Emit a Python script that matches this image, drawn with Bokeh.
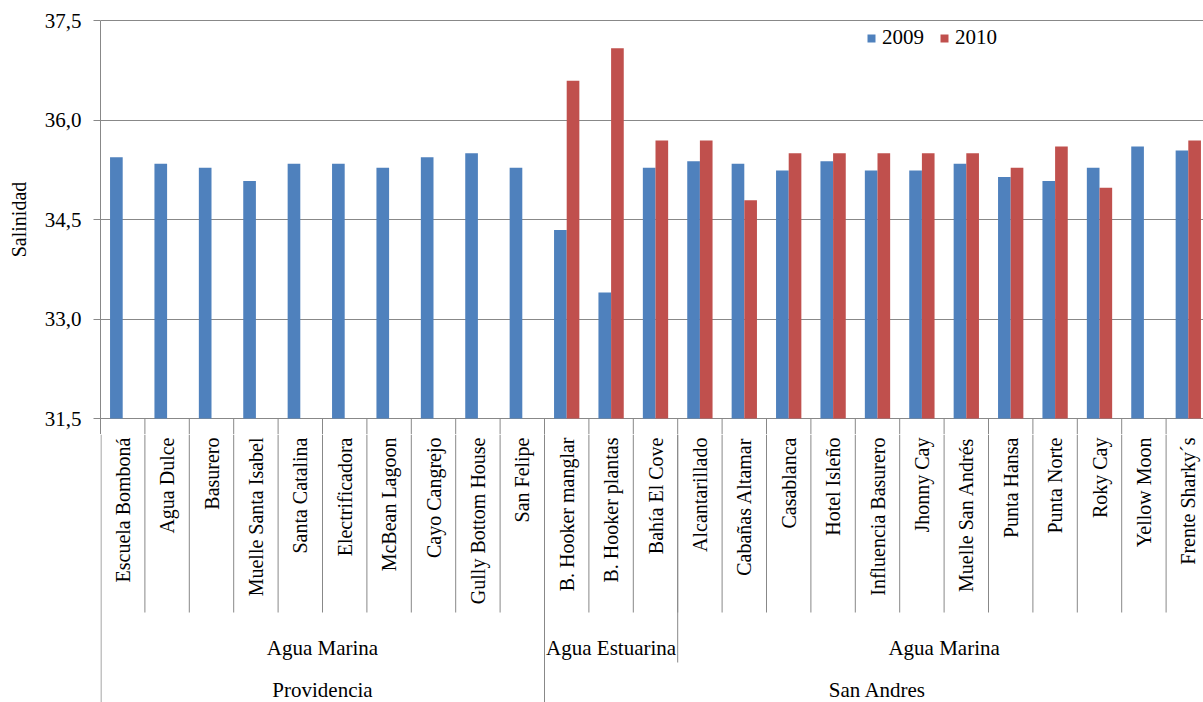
import math
import numpy as np
from bokeh.plotting import figure
from bokeh.layouts import column
from bokeh.models import (Range1d, FixedTicker, CustomJSTickFormatter, ColumnDataSource,
                          Legend, LegendItem)
from bokeh.core.properties import value
from bokeh.embed import file_html
from bokeh.resources import INLINE

# ---------------- data ----------------
sites = ["Escuela Bomboná", "Agua Dulce", "Basurero", "Muelle Santa Isabel",
         "Santa Catalina", "Electrificadora", "McBean Lagoon", "Cayo Cangrejo",
         "Gully Bottom House", "San Felipe", "B. Hooker manglar", "B. Hooker plantas",
         "Bahía El Cove", "Alcantarillado", "Cabañas Altamar", "Casablanca",
         "Hotel Isleño", "Influencia Basurero", "Jhonny Cay", "Muelle San Andrés",
         "Punta Hansa", "Punta Norte", "Roky Cay", "Yellow Moon", "Frente Sharky´s"]
water_type = (["Agua Marina"] * 10 + ["Agua Estuarina"] * 3 + ["Agua Marina"] * 12)
island = ["Providencia"] * 10 + ["San Andres"] * 15
sal_2009 = [35.44, 35.34, 35.28, 35.08, 35.34, 35.34, 35.28, 35.44, 35.50, 35.28,
            34.34, 33.40, 35.28, 35.38, 35.34, 35.24, 35.38, 35.24, 35.24, 35.34,
            35.14, 35.08, 35.28, 35.60, 35.54]
sal_2010 = [None] * 10 + [36.59, 37.08, 35.69, 35.69, 34.79, 35.50, 35.50, 35.50,
                          35.50, 35.50, 35.28, 35.60, 34.98, None, 35.69]
years = ["2009", "2010"]
y_ticks = [31.5, 33.0, 34.5, 36.0, 37.5]
y_label = "Salinidad"

# ---------------- layout constants ----------------
FONT = "Liberation Serif"
BLUE = "#4F81BD"
RED = "#C0504D"
GRID = "#888888"
W, H = 1203, 702
LEFT = 100
TOP_LINE = 20                # page row of the 37,5 gridline
PLOT_H = 398                 # 31,5 .. 37,5 in pixels
BASE_LINE = TOP_LINE + PLOT_H
PAD_T, PAD_B = 4, 16         # frame extends a little above / below the value range
TOP_H = BASE_LINE + PAD_B    # height of the upper figure
BOT_H = H - TOP_H            # height of the category-label band
FRAME_W = W - LEFT
CAT_PX = 44.4
X_END = FRAME_W / CAT_PX
BAR_W = 0.285
Y_MIN, Y_MAX = y_ticks[0], y_ticks[-1]
PX_PER_UNIT = PLOT_H / (Y_MAX - Y_MIN)
Y_LO = Y_MIN - PAD_B / PX_PER_UNIT
Y_HI = Y_MAX + (TOP_LINE - PAD_T) / PX_PER_UNIT

n = len(sites)
xc = np.arange(n) + 0.5
nanify = lambda a: np.array([np.nan if v is None else v for v in a], dtype=float)
src = ColumnDataSource(dict(
    x09=xc - BAR_W / 2, x10=xc + BAR_W / 2,
    s09=nanify(sal_2009), s10=nanify(sal_2010), site=sites, xc=xc))

x_range = Range1d(0, X_END)


def runs(keys):
    out, start = [], 0
    for i in range(1, len(keys) + 1):
        if i == len(keys) or keys[i] != keys[start]:
            out.append((keys[start], start, i))
            start = i
    return out


water_runs = runs(list(zip(island, water_type)))
island_runs = runs(island)
short_x = [i for i in range(1, n)]
w_x = [s for _, s, _ in water_runs if s > 0]
i_x = [s for _, s, _ in island_runs if s > 0]

# ---------------- upper figure: bars ----------------
p = figure(width=W, height=TOP_H, x_range=x_range, y_range=Range1d(Y_LO, Y_HI),
           output_backend="svg", toolbar_location=None, min_border_left=LEFT,
           min_border_top=PAD_T, min_border_right=0, min_border_bottom=0)
p.outline_line_color = None
p.background_fill_color = "white"
p.xaxis.visible = False
p.xgrid.visible = False

ticker = FixedTicker(ticks=y_ticks)
yax = p.yaxis[0]
yax.ticker = ticker
yax.bounds = (Y_LO, Y_MAX)
yax.formatter = CustomJSTickFormatter(code="return tick.toFixed(1).replace('.', ',');")
yax.axis_line_color = GRID
yax.major_tick_line_color = GRID
yax.major_tick_out = 7
yax.major_tick_in = 0
yax.minor_tick_line_color = None
yax.major_label_text_font = FONT
yax.major_label_text_font_size = "21px"
yax.major_label_text_color = "black"
yax.major_label_standoff = 12
yax.axis_label = y_label
yax.axis_label_text_font = FONT
yax.axis_label_text_font_size = "20px"
yax.axis_label_text_font_style = "normal"
yax.axis_label_text_color = "black"
yax.axis_label_standoff = 12

p.ygrid.ticker = ticker
p.ygrid.grid_line_color = GRID
p.ygrid.grid_line_width = 1

r09 = p.vbar(x="x09", top="s09", bottom=Y_MIN, width=BAR_W, source=src,
             fill_color=BLUE, line_color=None)
r10 = p.vbar(x="x10", top="s10", bottom=Y_MIN, width=BAR_W, source=src,
             fill_color=RED, line_color=None)

# start of the category separators (just below the 31,5 line)
p.segment(x0=short_x, x1=short_x, y0=Y_MIN, y1=Y_LO, line_color=GRID, line_width=1)

legend = Legend(items=[LegendItem(label=years[0], renderers=[r09]),
                       LegendItem(label=years[1], renderers=[r10])],
                location=(766, TOP_H - 50), orientation="horizontal",
                border_line_color=None, background_fill_alpha=0,
                glyph_width=10, glyph_height=10, label_standoff=6, spacing=15,
                padding=0, margin=0, label_text_font=FONT, label_text_font_size="21px",
                label_text_color="black")
p.add_layout(legend)

# ---------------- lower figure: multi-level category axis ----------------
q = figure(width=W, height=BOT_H, x_range=x_range, y_range=Range1d(BOT_H, 0),
           output_backend="svg", toolbar_location=None, min_border_left=LEFT,
           min_border_top=0, min_border_right=0, min_border_bottom=0)
q.outline_line_color = None
q.background_fill_color = "white"
q.xaxis.visible = False
q.yaxis.visible = False
q.grid.visible = False


def band_y(sy):
    """row inside the label band, from a page row"""
    return sy - TOP_H


q.text(x="xc", y=band_y(437), text="site", source=src, angle=math.pi / 2,
       text_align="right", text_baseline="middle", text_font=value(FONT),
       text_font_size="20px", text_color="black")

q.segment(x0=short_x, x1=short_x, y0=0, y1=band_y(612), line_color=GRID, line_width=1)
q.segment(x0=w_x, x1=w_x, y0=0, y1=band_y(662), line_color=GRID, line_width=1)
q.segment(x0=i_x, x1=i_x, y0=0, y1=BOT_H, line_color=GRID, line_width=1)
edge = 0.5 / CAT_PX
q.segment(x0=[edge], x1=[edge], y0=[0], y1=[BOT_H], line_color=GRID, line_width=1)

q.text(x=[(s + e) / 2 for _, s, e in water_runs], y=band_y(647),
       text=[k[1] for k, _, _ in water_runs], text_align="center", text_baseline="middle",
       text_font=value(FONT), text_font_size="21px", text_color="black")
q.text(x=[(s + e) / 2 for _, s, e in island_runs], y=band_y(689),
       text=[k for k, _, _ in island_runs], text_align="center", text_baseline="middle",
       text_font=value(FONT), text_font_size="21px", text_color="black")

layout = column(p, q, spacing=0)
open("out.html", "w").write(file_html(layout, INLINE))
